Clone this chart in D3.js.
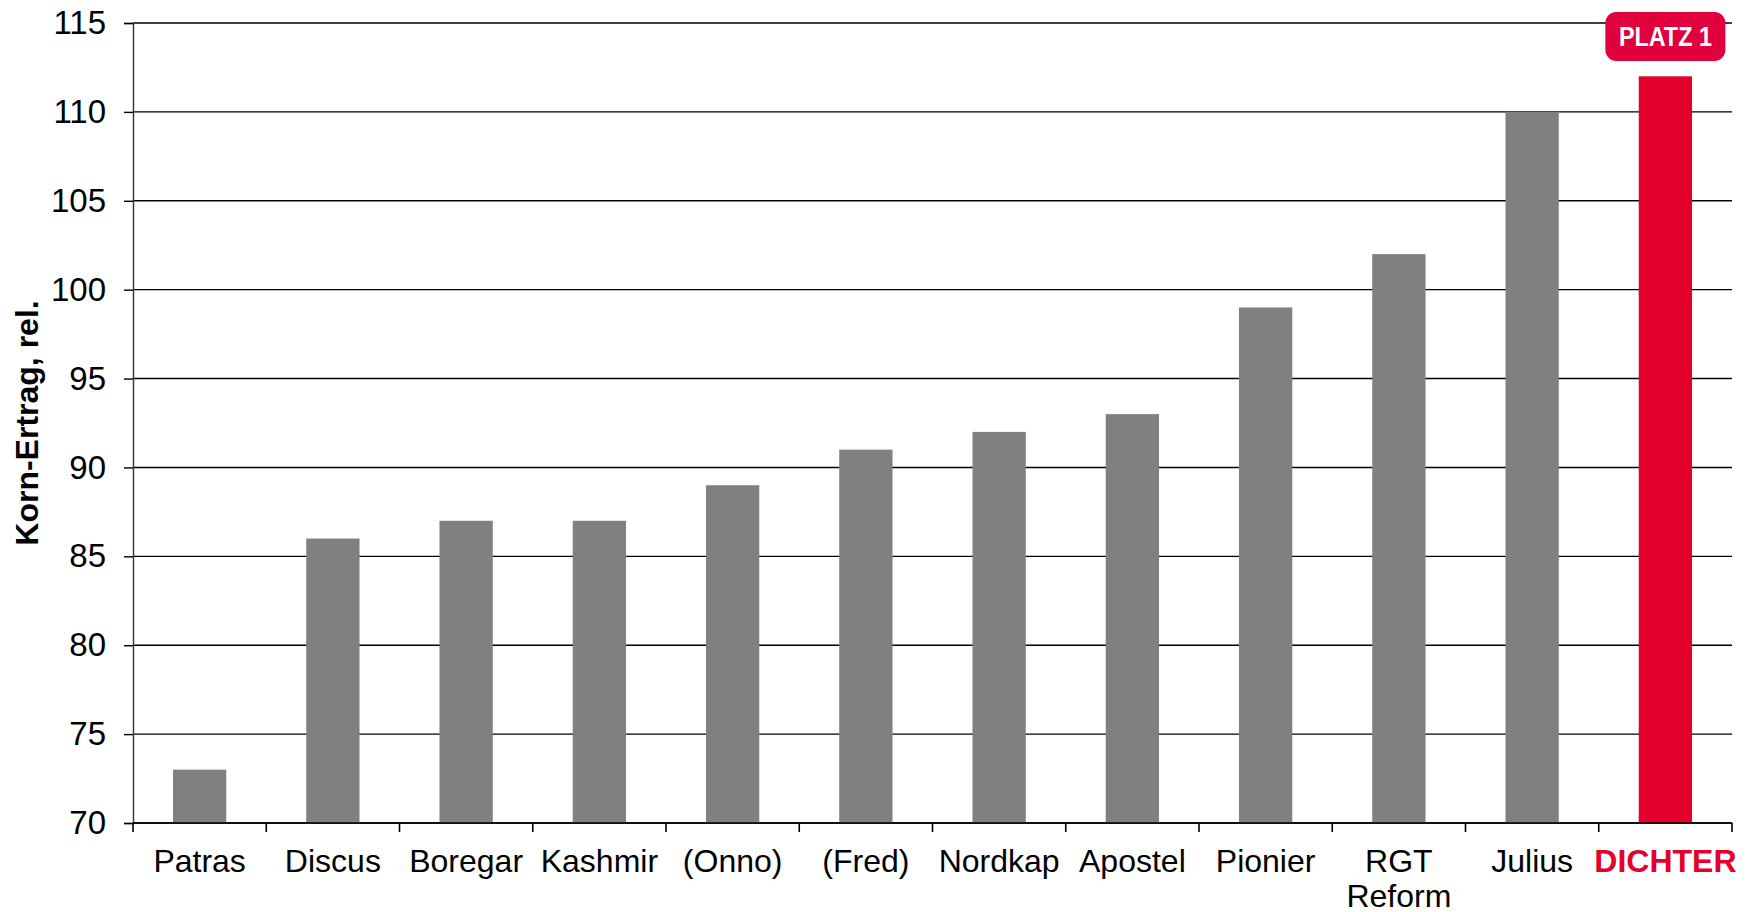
<!DOCTYPE html>
<html>
<head>
<meta charset="utf-8">
<script src="https://cdn.jsdelivr.net/npm/d3@7"></script>
<style>
  body { margin: 0; background: #fff; }
  text { font-family: "Liberation Sans", Arial, sans-serif; }
</style>
</head>
<body>
<div class="chart"></div>
<script>
var sorten = ["Patras", "Discus", "Boregar", "Kashmir", "(Onno)", "(Fred)", "Nordkap", "Apostel", "Pionier", "RGT Reform", "Julius", "DICHTER"]
var ertrag = [73, 86, 87, 87, 89, 91, 92, 93, 99, 102, 110, 112]
var yTicks = [70, 75, 80, 85, 90, 95, 100, 105, 110, 115]
var highlight = "DICHTER"

var width = 1754, height = 912
var m = {left: 133, right: 22, top: 23, bottom: 89}

var svg = d3.select(".chart")
    .append("svg")
    .attr("width", width)
    .attr("height", height)

var x = d3.scaleBand()
    .domain(sorten)
    .range([m.left, width - m.right])
    .paddingInner(0.6)
    .paddingOuter(0.3)

var y = d3.scaleLinear()
    .domain([70, 115])
    .range([height - m.bottom, m.top])

// gitterlinien
svg.append("g")
    .selectAll("line")
    .data(yTicks)
    .join("line")
    .attr("x1", m.left)
    .attr("x2", width - m.right)
    .attr("y1", d => y(d))
    .attr("y2", d => y(d))
    .style("stroke", "#000")
    .style("stroke-width", 1.4)

// balken
svg.append("g")
    .selectAll("rect")
    .data(sorten)
    .join("rect")
    .attr("x", d => x(d))
    .attr("width", x.bandwidth())
    .attr("y", (d, i) => y(ertrag[i]))
    .attr("height", (d, i) => y(70) - y(ertrag[i]))
    .style("fill", d => d == highlight ? "#e4002b" : "#808080")

// y achse
var yAxis = svg.append("g")
    .attr("transform", "translate(" + m.left + ",0)")
    .call(d3.axisLeft(y).tickValues(yTicks).tickSize(9).tickPadding(18))
yAxis.select(".domain").style("stroke", "#333").style("stroke-width", 1.4)
yAxis.selectAll(".tick line").style("stroke", "#000").style("stroke-width", 1.4)
yAxis.selectAll(".tick text")
    .style("font-size", "33px")
    .style("font-family", "'Liberation Sans', Arial, sans-serif")
    .attr("fill", "#000")

// x achse
var xEdges = sorten.map(d => x(d) - x.step() * x.paddingInner() / 2)
xEdges.push(width - m.right)
var xAxis = svg.append("g")
svg.append("line")
    .attr("x1", m.left)
    .attr("x2", width - m.right)
    .attr("y1", y(70))
    .attr("y2", y(70))
    .style("stroke", "#000")
    .style("stroke-width", 1.6)
xAxis.selectAll("line")
    .data(xEdges)
    .join("line")
    .attr("x1", d => d)
    .attr("x2", d => d)
    .attr("y1", y(70))
    .attr("y2", y(70) + 9)
    .style("stroke", "#000")
    .style("stroke-width", 1.6)

var labels = svg.append("g")
    .selectAll("text")
    .data(sorten)
    .join("text")
    .attr("x", d => x(d) + x.bandwidth() / 2)
    .attr("y", 872)
    .attr("text-anchor", "middle")
    .style("font-size", "32px")
    .style("font-weight", d => d == highlight ? "bold" : "normal")
    .attr("fill", d => d == highlight ? "#e4002b" : "#000")
labels.each(function(d) {
    var parts = d == "RGT Reform" ? ["RGT", "Reform"] : [d]
    var t = d3.select(this)
    parts.forEach((p, i) => {
        t.append("tspan")
            .attr("x", x(d) + x.bandwidth() / 2)
            .attr("dy", i == 0 ? 0 : 35)
            .text(p)
    })
})

// achsentitel
svg.append("text")
    .attr("transform", "translate(38," + ((m.top + height - m.bottom) / 2) + ") rotate(-90)")
    .attr("text-anchor", "middle")
    .style("font-size", "32px")
    .style("font-weight", "bold")
    .text("Korn-Ertrag, rel.")

// platz 1 badge
var bx = x(highlight) + x.bandwidth() / 2
svg.append("rect")
    .attr("x", bx - 60)
    .attr("y", 12)
    .attr("width", 120)
    .attr("height", 49)
    .attr("rx", 11)
    .style("fill", "#e0003c")
svg.append("text")
    .attr("x", bx)
    .attr("y", 46)
    .attr("text-anchor", "middle")
    .attr("textLength", 93)
    .attr("lengthAdjust", "spacingAndGlyphs")
    .style("font-size", "27px")
    .style("font-weight", "bold")
    .attr("fill", "#fff")
    .text("PLATZ 1")
</script>
</body>
</html>
